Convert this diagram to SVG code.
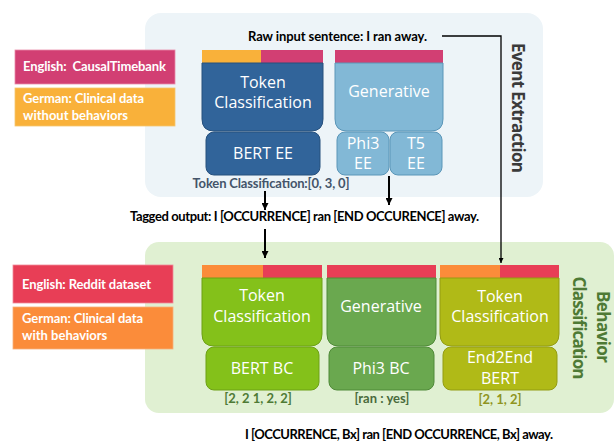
<svg xmlns="http://www.w3.org/2000/svg" width="615" height="444" viewBox="0 0 615 444">
<defs>
<marker id="ah" viewBox="0 0 10 10" refX="10" refY="5" markerWidth="5" markerHeight="5" orient="auto" markerUnits="userSpaceOnUse">
<path d="M0,0 L10,5 L0,10 Z" fill="#000"/>
</marker>
<marker id="ah2" viewBox="0 0 10 10" refX="10" refY="5" markerWidth="7" markerHeight="7" orient="auto" markerUnits="userSpaceOnUse">
<path d="M0,0 L10,5 L0,10 Z" fill="#000"/>
</marker>
<style>
.bold{font-family:Lato,"Liberation Sans",sans-serif;font-weight:bold;font-size:13px;fill:#000}
.leg{font-family:Lato,"Liberation Sans",sans-serif;font-weight:bold;font-size:13px;fill:#fff}
.lab{font-family:"Open Sans","Noto Sans",sans-serif;font-size:16px;fill:#fff;text-anchor:middle}
.res{font-family:Lato,"Liberation Sans",sans-serif;font-weight:bold;font-size:13px;text-anchor:middle}
.side{font-family:"Open Sans","Noto Sans",sans-serif;font-weight:bold;font-size:17px;text-anchor:middle}
.conn{stroke:#000;fill:none}
</style>
</defs>
<rect x="145" y="13" width="398" height="184" rx="16" fill="#edf4f8"/>
<rect x="145" y="242" width="469" height="171" rx="14" fill="#e0f0d2"/>

<g id="legend-causaltimebank"><rect x="15" y="50" width="160" height="34" fill="#d23f73" stroke="#e98aa8" stroke-width="0.8"/><text class="leg" x="23" y="71" textLength="143" xml:space="preserve">English:  CausalTimebank</text></g>
<g id="legend-clinical-without"><rect x="15" y="88" width="160" height="38" fill="#f9b13a" stroke="#f6c66f" stroke-width="0.8"/><text class="leg" x="23" y="103" textLength="121">German: Clinical data</text><text class="leg" x="23" y="120">without behaviors</text></g>
<g id="legend-reddit"><rect x="13" y="265" width="160" height="38" fill="#e83e56" stroke="#f08b99" stroke-width="0.8"/><text class="leg" x="22" y="289" textLength="129">English: Reddit dataset</text></g>
<g id="legend-clinical-with"><rect x="13" y="307" width="160" height="42" fill="#fb8c3a" stroke="#f7b07a" stroke-width="0.8"/><text class="leg" x="22" y="323" textLength="121">German: Clinical data</text><text class="leg" x="22" y="340">with behaviors</text></g>

<g id="raw-input"><text class="bold" x="248" y="41" textLength="179">Raw input sentence: I ran away.</text></g>
<g id="event-extraction-label"><text class="side" fill="#3a3a3a" transform="translate(512,108) rotate(90)" textLength="130">Event Extraction</text></g>

<g id="ee-token-classification">
<rect x="202" y="50" width="59" height="13" fill="#f9b13a"/>
<rect x="261" y="50" width="62" height="13" fill="#d23f73"/>
<path d="M202,63 H323 V119 Q323,131 311,131 H214 Q202,131 202,119 Z" fill="#31649a" stroke="#26507d" stroke-width="1"/>
<text class="lab" x="263" y="88">Token</text><text class="lab" x="263" y="108">Classification</text>
</g>
<g id="bert-ee"><rect x="206" y="132" width="114" height="43" rx="8" fill="#31649a" stroke="#26507d" stroke-width="1"/><text class="lab" x="263" y="159">BERT EE</text></g>

<g id="ee-generative">
<rect x="335" y="50" width="108" height="13" fill="#d23f73"/>
<path d="M335,63 H443 V119 Q443,131 431,131 H347 Q335,131 335,119 Z" fill="#82b8d6" stroke="#5a96b8" stroke-width="1"/>
<text class="lab" x="389" y="97">Generative</text>
</g>
<g id="phi3-ee"><rect x="337" y="132" width="52" height="43" rx="8" fill="#82b8d6" stroke="#5a96b8" stroke-width="1"/><text class="lab" x="363" y="149">Phi3</text><text class="lab" x="363" y="169">EE</text></g>
<g id="t5-ee"><rect x="390" y="132" width="52" height="43" rx="8" fill="#82b8d6" stroke="#5a96b8" stroke-width="1"/><text class="lab" x="416" y="149">T5</text><text class="lab" x="416" y="169">EE</text></g>

<g id="ee-result"><text class="res" fill="#44546a" x="271" y="188" textLength="157">Token Classification:[0, 3, 0]</text></g>
<g id="tagged-output"><text class="bold" x="130" y="221" textLength="349">Tagged output: I [OCCURRENCE] ran [END OCCURENCE] away.</text></g>

<g id="bc-token-classification">
<rect x="202" y="265" width="61" height="13" fill="#fb8c3a"/>
<rect x="263" y="265" width="59" height="13" fill="#e83e56"/>
<path d="M202,278 H322 V334 Q322,346 310,346 H214 Q202,346 202,334 Z" fill="#84c11a" stroke="#6ca015" stroke-width="1"/>
<text class="lab" x="262" y="301">Token</text><text class="lab" x="262" y="322">Classification</text>
</g>
<g id="bert-bc"><rect x="206" y="347" width="113" height="43" rx="8" fill="#84c11a" stroke="#6ca015" stroke-width="1"/><text class="lab" x="262" y="374">BERT BC</text></g>
<g id="bc-result-1"><text class="res" fill="#4e7a35" x="258" y="403">[2, 2 1, 2, 2]</text></g>

<g id="bc-generative">
<rect x="327" y="265" width="109" height="13" fill="#e83e56"/>
<path d="M327,278 H436 V334 Q436,346 424,346 H339 Q327,346 327,334 Z" fill="#6aa84f" stroke="#4f8a38" stroke-width="1"/>
<text class="lab" x="381" y="312">Generative</text>
</g>
<g id="phi3-bc"><rect x="329" y="347" width="105" height="43" rx="8" fill="#6aa84f" stroke="#4f8a38" stroke-width="1"/><text class="lab" x="381" y="374">Phi3 BC</text></g>
<g id="bc-result-2"><text class="res" fill="#4a6b3c" x="382" y="403">[ran : yes]</text></g>

<g id="bc-end2end">
<rect x="440" y="265" width="60" height="13" fill="#fb8c3a"/>
<rect x="500" y="265" width="59" height="13" fill="#e83e56"/>
<path d="M440,278 H559 V334 Q559,346 547,346 H452 Q440,346 440,334 Z" fill="#b0ba17" stroke="#939c12" stroke-width="1"/>
<text class="lab" x="500" y="302">Token</text><text class="lab" x="500" y="322">Classification</text>
</g>
<g id="end2end-bert"><rect x="443" y="347" width="114" height="43" rx="8" fill="#b0ba17" stroke="#939c12" stroke-width="1"/><text class="lab" x="500" y="363">End2End</text><text class="lab" x="500" y="384">BERT</text></g>
<g id="bc-result-3"><text class="res" fill="#8f9421" x="500" y="404">[2, 1, 2]</text></g>

<g id="behavior-classification-label">
<text class="side" fill="#4e7a35" transform="translate(597,327) rotate(90)" textLength="72">Behavior</text>
<text class="side" fill="#4e7a35" transform="translate(573,328) rotate(90)" textLength="103">Classification</text>
</g>

<g id="final-output"><text class="bold" x="245" y="439" textLength="308">I [OCCURRENCE, Bx] ran [END OCCURRENCE, Bx] away.</text></g>

<g id="connectors">
<path class="conn" stroke-width="1.3" d="M442,36 H501 V263" marker-end="url(#ah)"/>
<path class="conn" stroke-width="2" d="M265,191 V210" marker-end="url(#ah2)"/>
<path class="conn" stroke-width="2" d="M389,176 V205" marker-end="url(#ah2)"/>
<path class="conn" stroke-width="2" d="M265,229 V258" marker-end="url(#ah2)"/>
</g>
</svg>
